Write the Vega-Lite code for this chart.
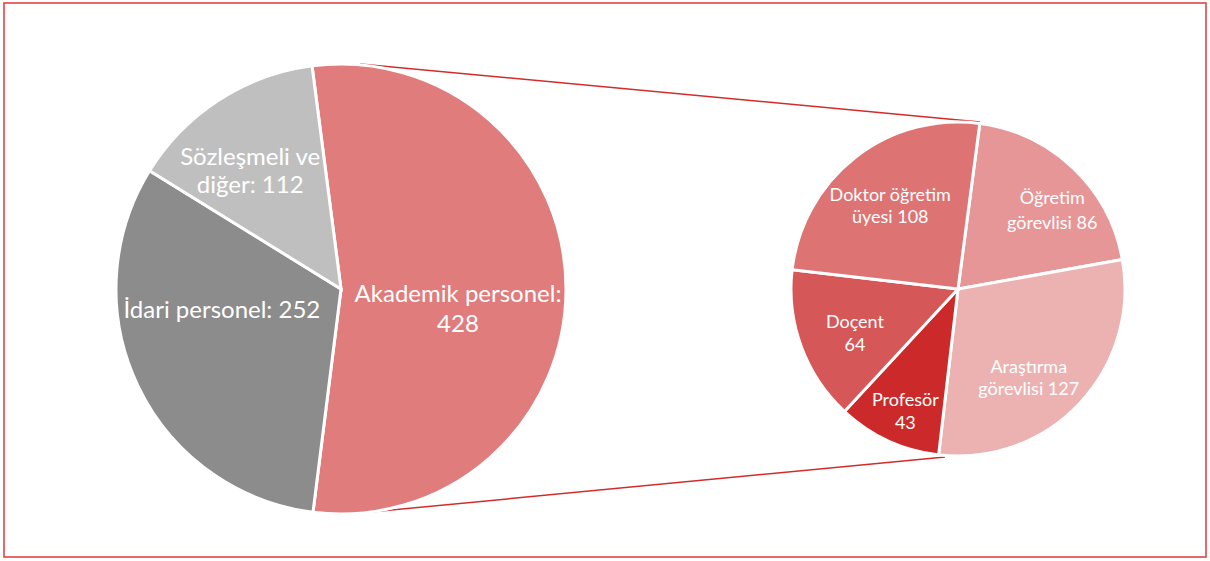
{
  "$schema": "https://vega.github.io/schema/vega-lite/v6.json",
  "width": 1210,
  "height": 561,
  "autosize": {"type": "fit", "contains": "padding"},
  "padding": {"left": 4, "top": 3, "right": 4, "bottom": 4},
  "background": "white",
  "config": {"view": {"stroke": "#E03A3A", "strokeWidth": 1.5}},
  "datasets": {
    "dilimler": [
      {"pasta": "Tüm personel", "kategori": "Akademik personel", "deger": 428, "sira": 1, "etiket": "Akademik personel:\n428"},
      {"pasta": "Tüm personel", "kategori": "İdari personel", "deger": 252, "sira": 2, "etiket": "İdari personel: 252"},
      {"pasta": "Tüm personel", "kategori": "Sözleşmeli ve diğer", "deger": 112, "sira": 3, "etiket": "Sözleşmeli ve\ndiğer: 112"},
      {"pasta": "Akademik personel", "kategori": "Öğretim görevlisi", "deger": 86, "sira": 1, "etiket": "Öğretim\ngörevlisi 86"},
      {"pasta": "Akademik personel", "kategori": "Araştırma görevlisi", "deger": 127, "sira": 2, "etiket": "Araştırma\ngörevlisi 127"},
      {"pasta": "Akademik personel", "kategori": "Profesör", "deger": 43, "sira": 3, "etiket": "Profesör\n43"},
      {"pasta": "Akademik personel", "kategori": "Doçent", "deger": 64, "sira": 4, "etiket": "Doçent\n64"},
      {"pasta": "Akademik personel", "kategori": "Doktor öğretim üyesi", "deger": 108, "sira": 5, "etiket": "Doktor öğretim\nüyesi 108"}
    ],
    "baglanti": [
      {"bas": "Tüm personel", "son": "Akademik personel"}
    ]
  },
  "resolve": {"scale": {"theta": "independent"}},
  "layer": [
    {
      "data": {"name": "baglanti"},
      "encoding": {
        "x": {"field": "bas", "type": "nominal", "scale": {"type": "point", "domain": ["Tüm personel", "Akademik personel"], "range": [337, 954], "padding": 0}, "axis": null},
        "x2": {"field": "son"},
        "y": {"field": "bas", "type": "nominal", "scale": {"type": "point", "domain": ["Tüm personel", "Akademik personel"], "range": [286, 286], "padding": 0}, "axis": null},
        "y2": {"field": "son"}
      },
      "layer": [
        {"mark": {"type": "rule", "color": "#D42B2B", "strokeWidth": 1.5, "xOffset": 19, "yOffset": -225, "x2Offset": 22, "y2Offset": -167}},
        {"mark": {"type": "rule", "color": "#D42B2B", "strokeWidth": 1.5, "xOffset": 19, "yOffset": 224, "x2Offset": -13, "y2Offset": 168}}
      ]
    },
    {
      "data": {"name": "dilimler"},
      "transform": [{"filter": "datum.pasta === 'Tüm personel'"}],
      "encoding": {
        "x": {"field": "pasta", "type": "nominal", "scale": {"type": "point", "domain": ["Tüm personel", "Akademik personel"], "range": [337, 954], "padding": 0}, "axis": null},
        "y": {"field": "pasta", "type": "nominal", "scale": {"type": "point", "domain": ["Tüm personel", "Akademik personel"], "range": [286, 286], "padding": 0}, "axis": null},
        "theta": {"field": "deger", "type": "quantitative", "stack": true, "scale": {"range": [-0.129, 6.154]}},
        "order": {"field": "sira", "type": "quantitative"}
      },
      "layer": [
        {
          "mark": {"type": "arc", "outerRadius": 225, "stroke": "white", "strokeWidth": 3},
          "encoding": {
            "color": {"field": "kategori", "type": "nominal", "legend": null,
              "scale": {"domain": ["Akademik personel", "İdari personel", "Sözleşmeli ve diğer", "Öğretim görevlisi", "Araştırma görevlisi", "Profesör", "Doçent", "Doktor öğretim üyesi"],
                        "range": ["#E07C7C", "#8C8C8C", "#BFBFBF", "#E69696", "#ECB2B2", "#CC2A2A", "#D65757", "#DD7373"]}}
          }
        },
        {
          "mark": {"type": "text", "radius": 117, "dy": 6, "color": "white", "font": "Lato", "fontSize": 24, "lineHeight": 30, "lineBreak": "\n", "align": "center", "baseline": "middle"},
          "encoding": {"text": {"condition": {"test": "datum.kategori === 'Akademik personel'", "field": "etiket", "type": "nominal"}, "value": ""}}
        },
        {
          "mark": {"type": "text", "radius": 121, "dx": -10, "dy": -30, "color": "white", "font": "Lato", "fontSize": 24, "lineHeight": 30, "lineBreak": "\n", "align": "center", "baseline": "middle"},
          "encoding": {"text": {"condition": {"test": "datum.kategori === 'İdari personel'", "field": "etiket", "type": "nominal"}, "value": ""}}
        },
        {
          "mark": {"type": "text", "radius": 149, "dx": -10, "dy": -6, "color": "white", "font": "Lato", "fontSize": 24, "lineHeight": 28, "lineBreak": "\n", "align": "center", "baseline": "middle"},
          "encoding": {"text": {"condition": {"test": "datum.kategori === 'Sözleşmeli ve diğer'", "field": "etiket", "type": "nominal"}, "value": ""}}
        }
      ]
    },
    {
      "data": {"name": "dilimler"},
      "transform": [{"filter": "datum.pasta === 'Akademik personel'"}],
      "encoding": {
        "x": {"field": "pasta", "type": "nominal", "scale": {"type": "point", "domain": ["Tüm personel", "Akademik personel"], "range": [337, 954], "padding": 0}, "axis": null},
        "y": {"field": "pasta", "type": "nominal", "scale": {"type": "point", "domain": ["Tüm personel", "Akademik personel"], "range": [286, 286], "padding": 0}, "axis": null},
        "theta": {"field": "deger", "type": "quantitative", "stack": true, "scale": {"range": [0.131, 6.414]}},
        "order": {"field": "sira", "type": "quantitative"}
      },
      "layer": [
        {
          "mark": {"type": "arc", "outerRadius": 167, "stroke": "white", "strokeWidth": 3},
          "encoding": {
            "color": {"field": "kategori", "type": "nominal", "legend": null,
              "scale": {"domain": ["Akademik personel", "İdari personel", "Sözleşmeli ve diğer", "Öğretim görevlisi", "Araştırma görevlisi", "Profesör", "Doçent", "Doktor öğretim üyesi"],
                        "range": ["#E07C7C", "#8C8C8C", "#BFBFBF", "#E69696", "#ECB2B2", "#CC2A2A", "#D65757", "#DD7373"]}}
          }
        },
        {
          "mark": {"type": "text", "radius": 122, "dx": 10, "dy": -2, "color": "white", "font": "Lato", "fontSize": 18, "lineHeight": 25, "lineBreak": "\n", "align": "center", "baseline": "middle"},
          "encoding": {"text": {"condition": {"test": "datum.kategori === 'Öğretim görevlisi'", "field": "etiket", "type": "nominal"}, "value": ""}}
        },
        {
          "mark": {"type": "text", "radius": 115, "dx": -13, "dy": 0, "color": "white", "font": "Lato", "fontSize": 18, "lineHeight": 22, "lineBreak": "\n", "align": "center", "baseline": "middle"},
          "encoding": {"text": {"condition": {"test": "datum.kategori === 'Araştırma görevlisi'", "field": "etiket", "type": "nominal"}, "value": ""}}
        },
        {
          "mark": {"type": "text", "radius": 133, "dx": 3, "dy": -9, "color": "white", "font": "Lato", "fontSize": 18, "lineHeight": 23, "lineBreak": "\n", "align": "center", "baseline": "middle"},
          "encoding": {"text": {"condition": {"test": "datum.kategori === 'Profesör'", "field": "etiket", "type": "nominal"}, "value": ""}}
        },
        {
          "mark": {"type": "text", "radius": 112, "dx": 2, "dy": -5, "color": "white", "font": "Lato", "fontSize": 18, "lineHeight": 23, "lineBreak": "\n", "align": "center", "baseline": "middle"},
          "encoding": {"text": {"condition": {"test": "datum.kategori === 'Doçent'", "field": "etiket", "type": "nominal"}, "value": ""}}
        },
        {
          "mark": {"type": "text", "radius": 107, "dx": -2, "dy": -9, "color": "white", "font": "Lato", "fontSize": 18, "lineHeight": 22, "lineBreak": "\n", "align": "center", "baseline": "middle"},
          "encoding": {"text": {"condition": {"test": "datum.kategori === 'Doktor öğretim üyesi'", "field": "etiket", "type": "nominal"}, "value": ""}}
        }
      ]
    }
  ]
}
